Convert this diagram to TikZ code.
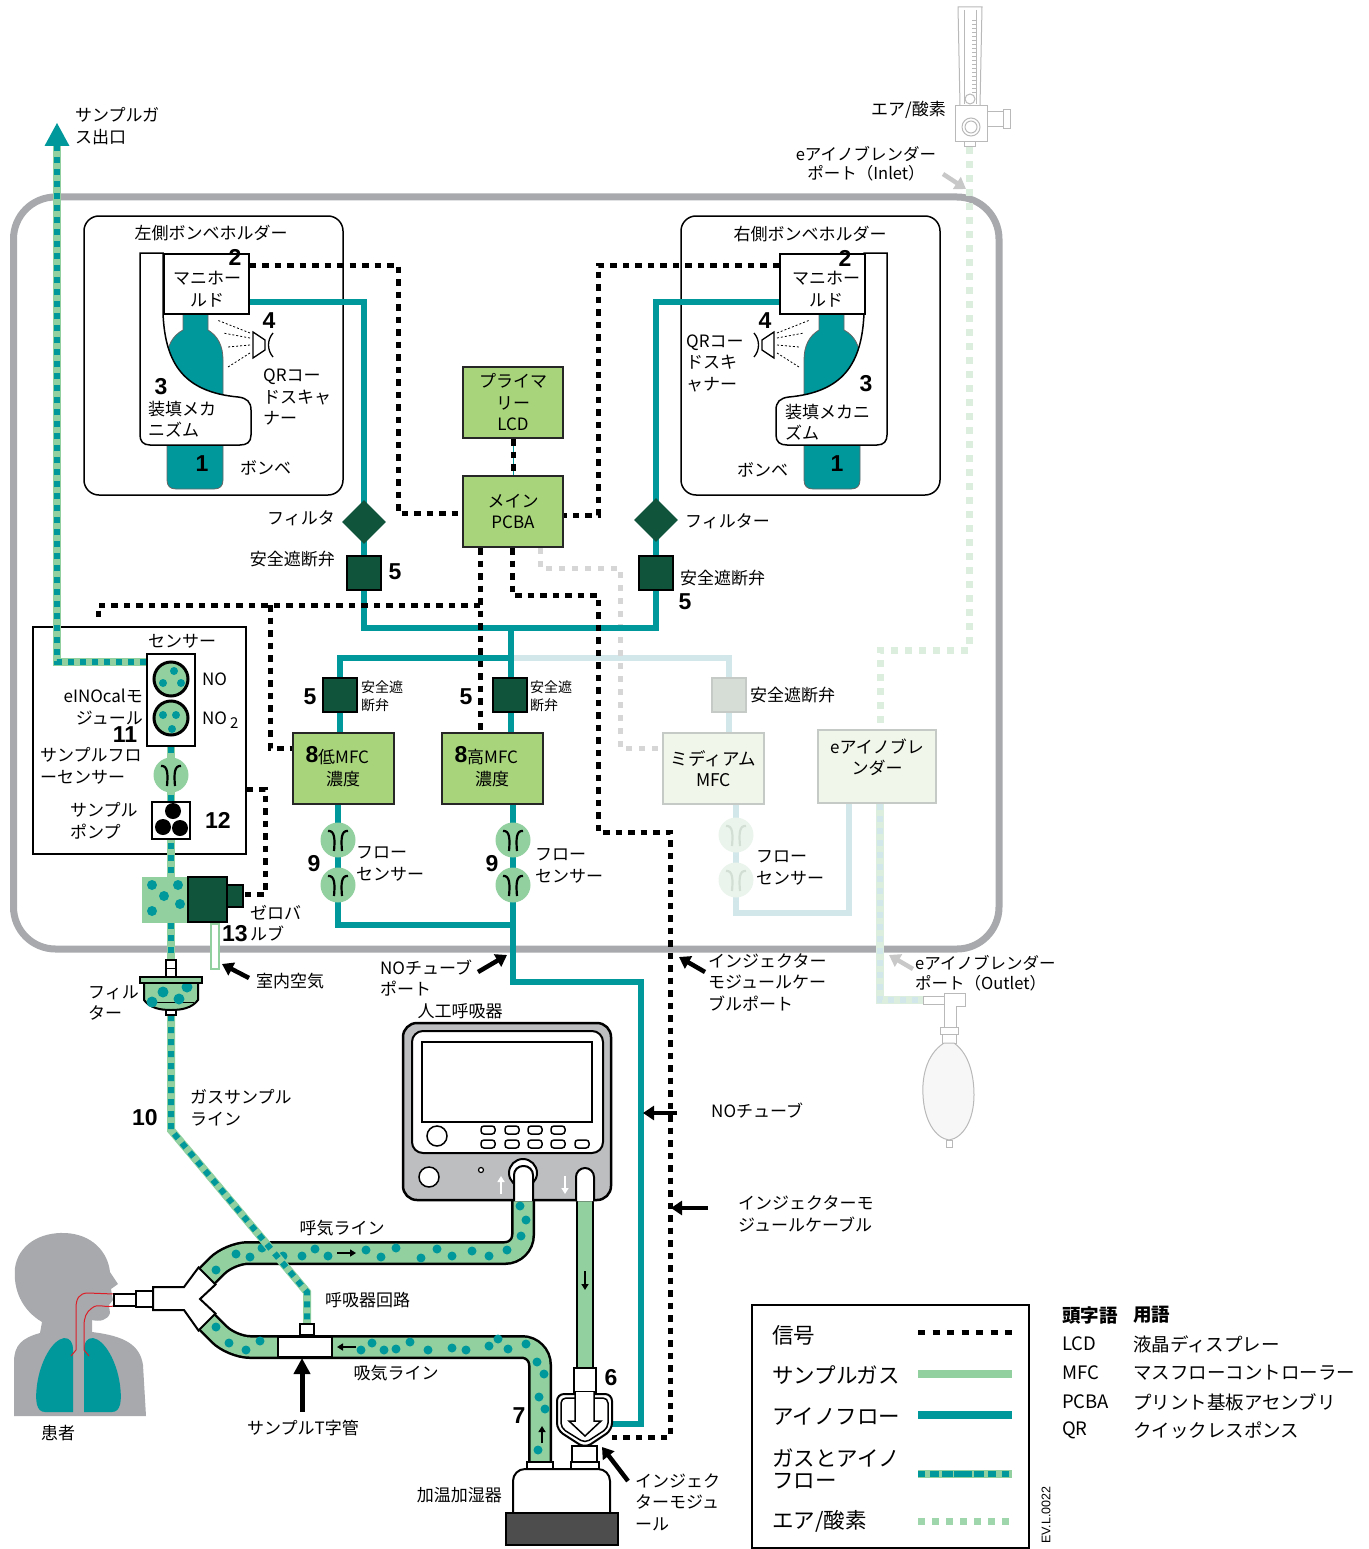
\documentclass[tikz,border=0pt]{standalone}
\usepackage{fontspec}
\setmainfont{Noto Sans CJK JP}
\newfontfamily\numfont{Liberation Sans}
\usetikzlibrary{arrows.meta,shapes.geometric,calc}
\pgfdeclarelayer{back}
\pgfdeclarelayer{pipes}
\pgfsetlayers{back,pipes,main}

\definecolor{ino}{RGB}{0,152,155}
\definecolor{sgreen}{RGB}{146,208,160}
\definecolor{lgreen}{RGB}{160,214,172}
\definecolor{mfcg}{RGB}{168,212,124}
\definecolor{dkg}{RGB}{16,84,60}
\definecolor{encg}{RGB}{167,169,172}
\definecolor{fteal}{RGB}{210,231,234}
\definecolor{fgreen}{RGB}{220,238,222}
\definecolor{fgray}{RGB}{214,214,214}
\definecolor{fbox}{RGB}{241,246,234}
\definecolor{fborder}{RGB}{198,202,198}
\definecolor{fvalvec}{RGB}{214,220,214}
\definecolor{fsensc}{RGB}{234,244,236}
\definecolor{fsensl}{RGB}{210,222,212}
\definecolor{ventg}{RGB}{188,190,192}
\definecolor{humg}{RGB}{77,77,77}
\definecolor{devline}{RGB}{185,185,185}
\definecolor{calloutg}{RGB}{200,200,200}
\definecolor{trach}{RGB}{220,30,40}

\tikzset{
  txt/.style={font=\fontsize{17}{21.5}\selectfont, inner sep=0pt, align=left},
  txtc/.style={txt, align=center},
  txtr/.style={txt, align=right},
  smalltxt/.style={font=\fontsize{14}{18}\selectfont, inner sep=0pt, align=left},
  legtxt/.style={font=\fontsize{21.5}{22}\selectfont, inner sep=0pt, align=left, anchor=west},
  acrtxt/.style={font=\fontsize{18.5}{20}\selectfont, inner sep=0pt, anchor=west},
  acrhead/.style={font=\bfseries\fontsize{18.5}{20}\selectfont, inner sep=0pt, anchor=west},
  num/.style={font=\numfont\bfseries\fontsize{23}{23}\selectfont, inner sep=0pt},
  sig/.style={draw=black, line width=5pt, dash pattern=on 6.5pt off 6pt},
  fsig/.style={draw=fgray, line width=5pt, dash pattern=on 6pt off 7pt},
  inoline/.style={draw=ino, line width=6.5pt},
  finoline/.style={draw=fteal, line width=6.5pt},
  gasino/.style={draw=sgreen, line width=8pt, postaction={draw=ino, line width=6pt, dash pattern=on 6pt off 6pt}},
  fgasino/.style={draw=fgreen, line width=8pt, postaction={draw=fteal, line width=6pt, dash pattern=on 6pt off 6pt}},
  airline/.style={draw=fgreen, line width=7pt, dash pattern=on 7pt off 7pt},
  greenbox/.style={draw=black!85, line width=2pt, fill=mfcg, inner sep=0pt, align=center, font=\fontsize{17}{21.5}\selectfont},
  fadedbox/.style={draw=fborder, line width=2pt, fill=fbox, inner sep=0pt, align=center, font=\fontsize{17.5}{21}\selectfont},
  manif/.style={draw, fill=white, line width=1.5pt, minimum width=85pt, minimum height=60pt, inner sep=0pt},
  valve/.style={draw=black, line width=1.2pt, fill=dkg, minimum size=34pt, inner sep=0pt},
  fvalve/.style={draw=fborder, line width=1.5pt, fill=fvalvec, minimum size=34pt, inner sep=0pt},
  filt/.style={diamond, fill=dkg, minimum width=44pt, minimum height=44pt, inner sep=0pt},
  callout/.style={line width=4.5pt, -{Triangle[length=11pt,width=14pt]}},
  greycallout/.style={draw=calloutg, line width=4.5pt, -{Triangle[length=11pt,width=14pt]}},
  tubeout/.style={line width=24pt, rounded corners=18pt},
  tubein/.style={draw=sgreen, line width=19pt, rounded corners=18pt},
  flowarrow/.style={line width=2.2pt, -{Triangle[length=6pt,width=7pt]}},
  fsens/.pic={
    \fill[sgreen] (0,0) circle (17.5);
    \draw[line width=2.2pt] (-10,-9) .. controls (-3,-10) and (-3,0) .. (-4,11);
    \draw[line width=2.2pt] (10,-9) .. controls (3,-10) and (3,0) .. (4,11);
  },
  fsensf/.pic={
    \fill[fsensc] (0,0) circle (17.5);
    \draw[fsensl, line width=2.2pt] (-10,-9) .. controls (-3,-10) and (-3,0) .. (-4,11);
    \draw[fsensl, line width=2.2pt] (10,-9) .. controls (3,-10) and (3,0) .. (4,11);
  },
}

% cylinder, loading bracket and QR scanner of one holder (left-hand version)
\newcommand\holderparts{%
  \filldraw[fill=ino, draw=black!60, line width=0.8pt] (183,312) -- (183,330)
    .. controls (172,336) and (167,346) .. (167,360) -- (167,480)
    .. controls (167,486) and (170,489) .. (176,489) -- (214,489)
    .. controls (220,489) and (223,486) .. (223,480) -- (223,360)
    .. controls (223,346) and (218,336) .. (208,330) -- (208,312) -- cycle;
  \filldraw[fill=white, line width=1.5pt] (140,253) -- (163,253) -- (163,313)
    .. controls (165,365) and (185,392) .. (238,397)
    .. controls (247,398) and (251,402) .. (251,410) -- (251,435)
    .. controls (251,442) and (247,445) .. (240,445) -- (150,445)
    .. controls (143,445) and (140,441) .. (140,435) -- cycle;
  \draw[line width=1.3pt] (253,332) -- (253,358) -- (265,350) -- (265,340) -- cycle;
  \draw[line width=1.3pt] (273,333) .. controls (267,340) and (267,350) .. (273,357);
  \draw[line width=0.8pt, dash pattern=on 2pt off 2pt]
    (250,333) -- (217,320) (250,338) -- (223,333) (250,345) -- (228,347) (250,353) -- (228,367);
}

\begin{document}
\begin{tikzpicture}[x=1pt,y=-1pt]
\useasboundingbox (0,0) rectangle (1368,1549);

% ================= back layer: housing, holders, patient =================
\begin{pgfonlayer}{back}
  \draw[encg, line width=7pt, rounded corners=42pt] (13.5,197) rectangle (999,949);
  \draw[line width=1.5pt, rounded corners=15pt] (84,216) rectangle (343,495);
  \draw[line width=1.5pt, rounded corners=15pt] (681,216) rectangle (940,495);
  \node[draw, line width=1.5pt, minimum width=213pt, minimum height=227pt, inner sep=0pt, anchor=north west] (smod) at (32,626) {};
  % patient
  \fill[encg] (14,1416) -- (14,1362) .. controls (14,1345) and (22,1338) .. (40,1333)
    -- (42,1322) .. controls (22,1310) and (13,1290) .. (15,1268)
    .. controls (18,1245) and (40,1232) .. (65,1233)
    .. controls (92,1234) and (108,1252) .. (110,1272)
    -- (118,1284) -- (111,1289) -- (113,1300) -- (109,1305) -- (110,1313)
    .. controls (108,1320) and (100,1322) .. (92,1320)
    -- (92,1332) .. controls (125,1336) and (140,1345) .. (143,1365)
    -- (146,1416) -- cycle;
  \fill[ino] (73,1350) -- (73,1412) -- (45,1412) .. controls (36,1412) and (35,1400) .. (37,1385)
    .. controls (40,1362) and (52,1340) .. (64,1338) .. controls (70,1338) and (73,1342) .. (73,1350) -- cycle;
  \fill[ino] (84,1350) -- (84,1412) -- (112,1412) .. controls (121,1412) and (122,1400) .. (120,1385)
    .. controls (117,1362) and (105,1340) .. (93,1338) .. controls (87,1338) and (84,1342) .. (84,1350) -- cycle;
  \draw[trach, line width=1pt] (114,1294) -- (88,1293) .. controls (79,1293) and (76,1299) .. (76,1308) -- (76,1350) -- (71,1356);
  \draw[trach, line width=1pt] (114,1306) .. controls (104,1308) and (98,1303) .. (92,1308)
    .. controls (86,1312) and (84,1318) .. (84,1326) -- (84,1350) -- (89,1356);
\end{pgfonlayer}

% ================= main layer: components =================
\holderparts
\begin{scope}[xshift=1027pt, xscale=-1]
  \holderparts
\end{scope}
\node[txt] (holderL) at (211,233) {左側ボンベホルダー};
\node[txt] (holderR) at (810,234) {右側ボンベホルダー};
\node[manif, anchor=north west] (manL) at (163,253) {};
\node[manif, anchor=north west] (manR) at (779,253) {};
\node[txtc] (manLt) at (207,289) {マニホー\\ルド};
\node[txtc] (manRt) at (826,289) {マニホー\\ルド};
\node[num] (n2L) at (235,257) {2};
\node[num] (n4L) at (269,321) {4};
\node[num] (n3L) at (161,387) {3};
\node[num] (n1L) at (202,464) {1};
\node[num] (n2R) at (845,258) {2};
\node[num] (n4R) at (765,321) {4};
\node[num] (n3R) at (866,384) {3};
\node[num] (n1R) at (837,464) {1};
\node[txt, anchor=west] (qrL) at (263,397) {QRコー\\ドスキャ\\ナー};
\node[txt, anchor=west] (ldL) at (148,419) {装填メカ\\ニズム};
\node[txt, anchor=west] (cyL) at (240,468) {ボンベ};
\node[txt, anchor=west] (qrR) at (686,363) {QRコー\\ドスキ\\ャナー};
\node[txt, anchor=west] (ldR) at (785,422) {装填メカニ\\ズム};
\node[txt, anchor=west] (cyR) at (737,470) {ボンベ};

% controller boards
\node[greenbox, minimum width=100pt, minimum height=71pt] (lcd) at (513,402.5) {プライマ\\リー\\LCD};
\node[greenbox, minimum width=100pt, minimum height=71pt] (pcba) at (513,511.5) {メイン\\PCBA};

% filters and shut-off valves
\node[filt] (filtL) at (364,522) {};
\node[filt] (filtR) at (656,520) {};
\node[valve] (valL) at (364,573) {};
\node[valve] (valR) at (656,573) {};
\node[txt, anchor=east] (filtLt) at (335,518) {フィルタ};
\node[txt, anchor=east] (valLt) at (335,559) {安全遮断弁};
\node[num] (n5L) at (395,572) {5};
\node[txt, anchor=west] (filtRt) at (685,521) {フィルター};
\node[txt, anchor=west] (valRt) at (680,578) {安全遮断弁};
\node[num] (n5R) at (685,602) {5};

\node[valve] (valLo) at (340,695) {};
\node[valve] (valHi) at (510,695) {};
\node[fvalve] (valMd) at (729,695) {};
\node[num] (n5a) at (310,697) {5};
\node[smalltxt, anchor=west] (valLot) at (361,696) {安全遮\\断弁};
\node[num] (n5b) at (466,697) {5};
\node[smalltxt, anchor=west] (valHit) at (530,696) {安全遮\\断弁};
\node[txt, anchor=west] (valMdt) at (750,695) {安全遮断弁};

% mass flow controllers and blender
\node[greenbox, minimum width=101pt, minimum height=71pt] (mfcLo) at (343.5,768.5) {};
\node[greenbox, minimum width=101pt, minimum height=71pt] (mfcHi) at (492.5,768.5) {};
\node[txt, anchor=west] (mfcLot) at (318,757) {低MFC};
\node[txt] (mfcLot2) at (343,779) {濃度};
\node[num] (n8a) at (312,755) {8};
\node[txt, anchor=west] (mfcHit) at (467,757) {高MFC};
\node[txt] (mfcHit2) at (492,779) {濃度};
\node[num] (n8b) at (461,755) {8};
\node[fadedbox, minimum width=101pt, minimum height=71pt] (mfcMd) at (713.5,768.5) {ミディアム\\MFC};
\node[fadedbox, minimum width=118pt, minimum height=73pt] (blender) at (877,766.5) {};
\node[txtc] (blendert) at (877,757.5) {eアイノブレ\\ンダー};

% flow sensors
\pic (fsLo1) at (338,840) {fsens};
\pic (fsLo2) at (338,885) {fsens};
\pic (fsHi1) at (513,840) {fsens};
\pic (fsHi2) at (513,885) {fsens};
\pic (fsMd1) at (736,835) {fsensf};
\pic (fsMd2) at (736,880) {fsensf};
\node[num] (n9a) at (314,864) {9};
\node[txt, anchor=west] (fsLot) at (356,864) {フロー\\センサー};
\node[num] (n9b) at (492,864) {9};
\node[txt, anchor=west] (fsHit) at (535,866) {フロー\\センサー};
\node[txt, anchor=west] (fsMdt) at (756,868) {フロー\\センサー};

% eINOcal sensor module
\node[txt] (smodt) at (182,641) {センサー};
\node[draw, fill=white, line width=1.5pt, minimum width=48pt, minimum height=92pt, inner sep=0pt] (sbox) at (171,700) {};
\node[circle, draw, line width=3pt, fill=sgreen, minimum size=34pt, inner sep=0pt] (noS) at (171,679) {};
\node[circle, draw, line width=3pt, fill=sgreen, minimum size=34pt, inner sep=0pt] (no2S) at (171,718) {};
\foreach \px/\py in {174/671, 163/683, 181/683, 163/715, 176/715, 172/729} \fill[ino] (\px,\py) circle (4);
\node[txt, anchor=west] (noT) at (202,679) {NO};
\node[txt, anchor=west] (no2T) at (202,720) {NO\kern3pt\raisebox{-4pt}{\fontsize{15}{15}\selectfont 2}};
\node[txtr, anchor=east] (calT) at (143,707) {eINOcalモ\\ジュール};
\node[num] (n11) at (125,735) {11};
\pic (sfs) at (171,775) {fsens};
\node[txt, anchor=west] (sfsT) at (40,766) {サンプルフロ\\ーセンサー};
\node[draw, fill=white, line width=2pt, minimum width=38pt, minimum height=37pt, inner sep=0pt] (pump) at (171,820.5) {};
\fill (173,811) circle (8) (163,827) circle (8) (180,828) circle (8);
\node[txt, anchor=west] (pumpT) at (70,821) {サンプル\\ポンプ};
\node[num] (n12) at (218,820) {12};

% zero valve
\node[fill=sgreen, minimum width=46pt, minimum height=46pt, inner sep=0pt] (zvg) at (165,900) {};
\foreach \px/\py in {152/885, 178/885, 164/896, 152/911, 180/904} \fill[ino] (\px,\py) circle (5);
\node[draw, line width=1.5pt, fill=dkg, minimum width=39pt, minimum height=45pt, inner sep=0pt] (zvd) at (207.5,899.5) {};
\node[draw, line width=1.5pt, fill=dkg, minimum width=16pt, minimum height=22pt, inner sep=0pt] (zvs) at (235,896) {};
\node[draw=sgreen, line width=1.5pt, fill=white, minimum width=8pt, minimum height=45pt, inner sep=0pt, anchor=north] (roomtube) at (215,923) {};
\node[txt, anchor=west] (zvT) at (250,923) {ゼロバ\\ルブ};
\node[num] (n13) at (235,934) {13};
\node[txt, anchor=west] (roomT) at (256,981) {室内空気};

% gas sample filter
\draw[fill=white, line width=1.5pt] (166,960) rectangle (176,977);
\draw[line width=1pt] (166,968) -- (176,968);
\draw[fill=sgreen, line width=2pt] (144,983) -- (144,1000) .. controls (150,1008) and (160,1010) .. (171,1010)
  .. controls (182,1010) and (192,1008) .. (198,1000) -- (198,983);
\draw[line width=1pt] (148,1002) -- (194,1002);
\foreach \px/\py in {163/992, 187/987, 152/1002, 179/999} \fill[ino] (\px,\py) circle (5.5);
\draw[fill=sgreen, line width=2pt] (140,977) rectangle (202,983);
\draw[fill=white, line width=1.5pt] (166,1010) rectangle (176,1015);
\node[txt, anchor=west] (filtT) at (88,1003) {フィル\\ター};
\node[num] (n10) at (145,1118) {10};
\node[txt, anchor=west] (gslT) at (190,1108) {ガスサンプル\\ライン};

% top-right flowmeter
\begin{scope}[devline, line width=1pt]
  \draw (958,7) -- (982,7) -- (980,106) -- (960,106) -- cycle;
  \draw (964,10) -- (964,104) (976,10) -- (976,104);
  \foreach \yy in {20,24,...,92} \draw[line width=0.6pt] (972,\yy) -- (976,\yy);
  \draw (970,99) circle (5);
  \draw[fill=white] (955,106) rectangle (987,142);
  \draw (971,127) circle (9) (971,127) circle (6);
  \draw (987,112) rectangle (1003,127);
  \draw (1003,110) rectangle (1010,129);
  \draw (964,142) rectangle (975,147);
\end{scope}
\coordinate (flowOut) at (969,147);
\node[txt, anchor=east] (airT) at (946,110) {エア/酸素};
\node[txtc, font=\fontsize{16.5}{19}\selectfont] (inletT) at (866,164) {eアイノブレンダー\\ポート（Inlet）};
\node[txt, anchor=west, font=\fontsize{16.5}{20}\selectfont] (outletT) at (915,973) {eアイノブレンダー\\ポート（Outlet）};
\draw[greycallout] (943,174) -- (966,189);
\draw[greycallout] (913,969) -- (889,955);

% manual bag
\begin{scope}[devline, line width=1pt]
  \draw[fill=white] (923,996) rectangle (944,1004);
  \draw[fill=white] (944,993) -- (965,993) -- (965,1006) -- (956,1006) -- (956,1027) -- (944,1027) -- cycle;
  \draw[fill=white] (940,1027) rectangle (958,1034);
  \draw[fill=white] (942,1034) rectangle (956,1043);
  \draw[fill=black!3] (944,1043) .. controls (925,1055) and (922,1080) .. (923,1095)
    .. controls (924,1120) and (935,1138) .. (949,1140) .. controls (963,1138) and (974,1120) .. (974,1095)
    .. controls (974,1080) and (971,1055) .. (954,1043) -- cycle;
  \draw[fill=white] (946,1140) rectangle (952,1147);
\end{scope}
\coordinate (bagIn) at (923,1000);

% ventilator
\node[txt] (ventT) at (460,1011) {人工呼吸器};
\node[draw, fill=ventg, line width=2.5pt, rounded corners=14pt, minimum width=208pt, minimum height=177pt, inner sep=0pt] (vent) at (507,1111.5) {};
\draw[fill=white, line width=2pt, rounded corners=11pt] (412,1031) rectangle (603,1153);
\draw[line width=1.5pt] (422,1042) rectangle (592,1122);
\draw[line width=1.5pt] (437,1136) circle (10);
\foreach \bx in {488,512,535,558} \draw[line width=1.5pt, rounded corners=3pt] (\bx-7,1126) rectangle (\bx+7,1134);
\foreach \bx in {488,512,535,558,582} \draw[line width=1.5pt, rounded corners=3pt] (\bx-7,1140) rectangle (\bx+7,1148);
\draw[fill=white, line width=1.5pt] (429,1177) circle (10);
\draw[fill=white, line width=1.2pt] (481,1170) circle (2.5);
\draw[fill=white, line width=2pt] (523,1173) circle (14);
\draw[fill=white, line width=2pt, rounded corners=9pt] (514,1201) -- (514,1166) -- (533,1166) -- (533,1201);
\draw[fill=white, line width=2pt, rounded corners=9pt] (576,1201) -- (576,1168) -- (594,1168) -- (594,1201);
\draw[white, line width=2.5pt, -{Triangle[length=6pt,width=7pt]}] (501,1194) -- (501,1176);
\draw[white, line width=2.5pt, -{Triangle[length=6pt,width=7pt]}] (565,1176) -- (565,1194);

% humidifier
\draw[fill=white, line width=2pt] (527,1462) rectangle (553,1469);
\draw[fill=white, line width=2pt] (571,1462) rectangle (599,1469);
\draw[fill=white, line width=2pt] (572,1446) rectangle (597,1462);
\draw[fill=white, line width=2pt, rounded corners=12pt] (513,1514) -- (513,1469) -- (610,1469) -- (610,1514);
\node[draw, fill=humg, line width=2pt, minimum width=112pt, minimum height=32pt, inner sep=0pt] (hum) at (562,1529) {};
\node[txt, anchor=east] (humT) at (502,1495) {加温加湿器};

% injector module
\node[minimum width=55pt, minimum height=52pt, inner sep=0pt] (inj) at (584.5,1421) {};
\draw[fill=white, line width=2pt] (574,1368) rectangle (596,1392);
\draw[fill=white, line width=2pt, rounded corners=7pt] (557,1394) -- (612,1394) -- (612,1430) -- (585,1448) -- (557,1430) -- cycle;
\draw[line width=1.5pt, rounded corners=5pt] (561,1398) -- (608,1398) -- (608,1428) -- (585,1443) -- (561,1428) -- cycle;
\draw[fill=white, line width=1.5pt] (575,1392) -- (575,1421) -- (569,1421) -- (585,1436) -- (601,1421) -- (594,1421) -- (594,1392);
\node[num] (n6) at (611,1378) {6};
\node[num] (n7) at (519,1416) {7};
\node[txt, anchor=west] (injT) at (635,1502) {インジェク\\ターモジュ\\ール};

% patient circuit pieces
\draw[fill=white, line width=1.5pt] (114,1294) rectangle (136,1306);
\draw[fill=white, line width=2pt] (136,1291) rectangle (153,1307);
\draw[fill=white, line width=2pt] (153,1287) -- (184,1287) -- (198.5,1267.5) -- (215.5,1284.5) -- (200,1299)
  -- (215.5,1313.5) -- (198.5,1330.5) -- (184,1310) -- (153,1310) -- cycle;
\node[draw, fill=white, line width=2pt, minimum width=54pt, minimum height=20pt, inner sep=0pt] (sT) at (305,1347) {};
\node[draw, fill=white, line width=2pt, minimum width=14pt, minimum height=11pt, inner sep=0pt] (sTs) at (307,1329.5) {};
\node[txt] (patT) at (58,1433) {患者};
\node[txt] (sTT) at (303,1428) {サンプルT字管};
\draw[line width=5pt, -{Triangle[length=16pt,width=16pt]}] (sTT.north -| 302,0) ++(0,-8) -- (sT.south -| 302,0);
\node[txt] (expT) at (342,1228) {呼気ライン};
\node[txt, anchor=west] (circT) at (325,1300) {呼吸器回路};
\node[txt] (inspT) at (396,1373) {吸気ライン};

% tube and cable labels
\node[txt, anchor=west] (noportT) at (380,978) {NOチューブ\\ポート};
\node[txt, anchor=west] (cportT) at (708,982) {インジェクター\\モジュールケー\\ブルポート};
\node[txt, anchor=west] (notubeT) at (711,1111) {NOチューブ};
\node[txt, anchor=west] (cableT) at (738,1214) {インジェクターモ\\ジュールケーブル};
\draw[callout] (249,978) -- (222,964);
\draw[callout] (478,972) -- (507,955);
\draw[callout] (705,972) -- (679,957);
\draw[callout] (677,1113) -- (643,1113);
\draw[callout] (708,1208) -- (671,1208);
\draw[callout] (628,1481) -- (602,1447);
\node[txt, anchor=west] (outT) at (75,126) {サンプルガ\\ス出口};

% legend
\node[draw, line width=1.5pt, minimum width=277pt, minimum height=243pt, inner sep=0pt, anchor=north west] (legend) at (751,1304) {};
\node[legtxt] (lg1) at (772,1335) {信号};
\node[legtxt] (lg2) at (772,1375) {サンプルガス};
\node[legtxt] (lg3) at (772,1416) {アイノフロー};
\node[legtxt] (lg4) at (772,1469) {ガスとアイノ\\フロー};
\node[legtxt] (lg5) at (772,1521) {エア/酸素};
\draw[sig, dash pattern=on 7pt off 7.5pt] (918,1332) -- (1012,1332);
\draw[sgreen, line width=8pt] (918,1374) -- (1012,1374);
\draw[ino, line width=8pt] (918,1415) -- (1012,1415);
\draw[gasino, postaction={draw=ino, line width=6pt, dash pattern=on 7pt off 7pt}] (918,1474) -- (1012,1474);
\draw[lgreen, line width=7pt, dash pattern=on 7pt off 7pt] (918,1521) -- (1012,1521);
\node[rotate=90, font=\numfont\fontsize{12.5}{13}\selectfont, inner sep=0pt] (docid) at (1046,1515) {EV.L.0022};

% acronyms
\node[acrhead] (ah1) at (1062,1315) {頭字語};
\node[acrhead] (ah2) at (1133,1315) {用語};
\node[acrtxt] (a1) at (1062,1344) {LCD};
\node[acrtxt] (b1) at (1133,1344) {液晶ディスプレー};
\node[acrtxt] (a2) at (1062,1373) {MFC};
\node[acrtxt] (b2) at (1133,1373) {マスフローコントローラー};
\node[acrtxt] (a3) at (1062,1402) {PCBA};
\node[acrtxt] (b3) at (1133,1402) {プリント基板アセンブリ};
\node[acrtxt] (a4) at (1062,1430) {QR};
\node[acrtxt] (b4) at (1133,1430) {クイックレスポンス};

% ================= pipes layer: gas lines, signals, tubing =================
\begin{pgfonlayer}{pipes}
  % air/oxygen supply and blender outlet
  \draw[airline] (flowOut) -- (969,650) -- (880,650) -- (blender.north -| 880,0);
  \draw[fgasino] (blender.south -| 880,0) -- (880,1000) -- (bagIn);
  % faded medium-concentration branch
  \coordinate (trunk) at (511,628);
  \coordinate (split) at (511,658);
  \draw[finoline] (split) -| (valMd.north);
  \draw[finoline] (valMd.south) -- (valMd.south |- mfcMd.north);
  \draw[finoline] (mfcMd.south -| 736,0) -- (736,913) -- (849,913) -- (blender.south -| 849,0);
  \draw[fsig] (pcba.south -| 540,0) -- (540,568) -- (620,568) |- (mfcMd.west |- 0,748);
  % NO delivery lines
  \draw[inoline] (manL.east |- 0,302) -| (364,628) -- (656,628) |- (manR.west |- 0,302);
  \draw[inoline] (trunk) -- (split) -| (mfcLo.north -| 340,0);
  \draw[inoline] (split) -- (split |- mfcHi.north);
  \draw[inoline] (mfcLo.south -| 338,0) -- (338,925) -- (513,925);
  \draw[inoline] (mfcHi.south -| 513,0) -- (513,982) -- (641,982) -- (641,1424) -- (inj.east |- 0,1424);
  % signal wiring
  \draw[sig] (manL.east |- 0,265) -- (398,265) |- (pcba.west |- 0,513);
  \draw[sig] (manR.west |- 0,265) -- (598,265) |- (pcba.east |- 0,515);
  \draw[ino, line width=0.8pt] (lcd.south) -- (pcba.north);
  \draw[sig] (lcd.south) -- (pcba.north);
  \draw[sig] (pcba.south -| 480,0) -- (mfcHi.north -| 480,0);
  \draw[sig] (480,605) -- (98,605) -- (98,621);
  \draw[sig] (270,605) |- (mfcLo.west |- 0,748);
  \draw[sig] (pcba.south -| 512,0) -- (512,595) -- (598,595) -- (598,832) -- (670,832) -- (670,1437) -- (inj.east |- 0,1437);
  \draw[sig] (smod.east |- 0,789) -- (265,789) |- (zvs.east |- 0,894);
  % breathing circuit limbs
  \draw[tubeout] (207,1276) -- (230,1253) -- (523,1253) -- (523,1190);
  \draw[tubein]  (207,1276) -- (230,1253) -- (523,1253) -- (523,1190);
  \draw[tubeout] (207,1322) -- (232,1347) -- (540,1347) -- (540,1465);
  \draw[tubein]  (207,1322) -- (232,1347) -- (540,1347) -- (540,1465);
  \draw[line width=18pt] (585,1190) -- (585,1370);
  \draw[sgreen, line width=14pt] (585,1190) -- (585,1370);
  \foreach \px/\py in {216/1270, 236/1254, 250/1257, 262/1248, 283/1256, 302/1256, 315/1249, 328/1256,
      366/1250, 381/1257, 396/1248, 421/1258, 437/1249, 452/1256, 472/1251, 489/1256, 507/1250,
      521/1236, 526/1220, 520/1206}
    \fill[ino] (\px,\py) circle (4.5);
  \foreach \px/\py in {216/1327, 229/1343, 246/1350, 260/1341, 361/1350, 372/1343, 384/1350, 396/1349,
      410/1342, 428/1350, 452/1348, 466/1350, 489/1346, 498/1339, 508/1349, 526/1344,
      537/1362, 544/1374, 539/1397, 545/1409, 538/1450}
    \fill[ino] (\px,\py) circle (4.5);
  \draw[flowarrow] (337,1253) -- (356,1253);
  \draw[flowarrow] (356,1347) -- (337,1347);
  \draw[flowarrow] (542,1443) -- (542,1426);
  \draw[flowarrow] (585,1271) -- (585,1290);
  % sampled gas path
  \draw[gasino] (sbox.west |- 0,662) -- (57,662) -- (57,146);
  \fill[ino] (57,123) -- (69.5,146) -- (44.5,146) -- cycle;
  \draw[gasino] (sbox.south) -- (sbox.south |- zvg.north);
  \draw[gasino] (sbox.south |- zvg.south) -- (171,960);
  \draw[gasino] (171,1015) -- (171,1130) -- (307,1292) -- (sTs.north);
\end{pgfonlayer}
\end{tikzpicture}
\end{document}
